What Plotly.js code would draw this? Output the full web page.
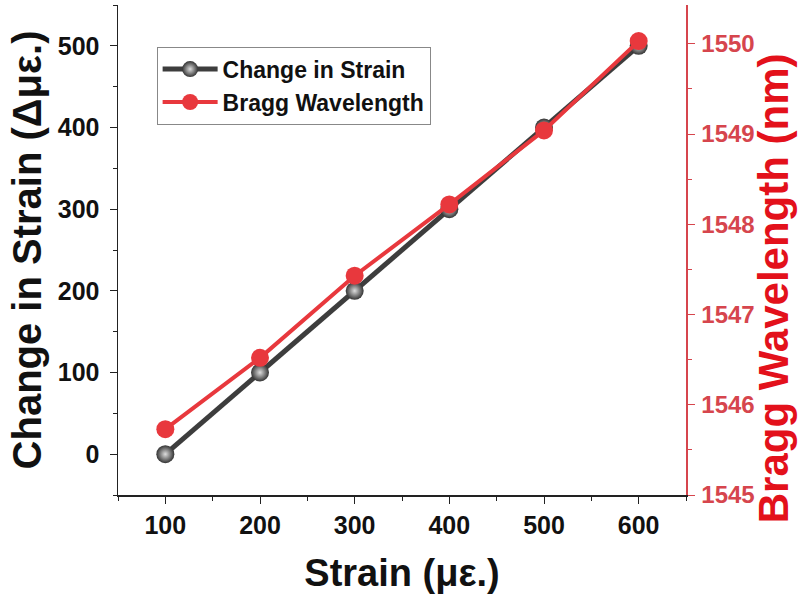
<!DOCTYPE html>
<html><head><meta charset="utf-8">
<script src="https://cdn.plot.ly/plotly-3.0.1.min.js"></script>
<style>body{margin:0;background:#fff}#chart{width:800px;height:609px}</style>
</head><body><div id="chart"></div>
<script>
const strain = [100, 200, 300, 400, 500, 600];
const changeInStrain = [0, 100, 200, 300, 400, 500];
const braggWavelength = [1545.73, 1546.52, 1547.43, 1548.22, 1549.04, 1550.03];
const xTicks = [100, 200, 300, 400, 500, 600];
const yTicks = [0, 100, 200, 300, 400, 500];
const y2Ticks = [1545, 1546, 1547, 1548, 1549, 1550];

const tickFont = {family: 'Liberation Sans, Arial', size: 25, color: '#111', weight: 'bold'};
const data = [
  {x: strain, y: changeInStrain, name: 'Change in Strain', mode: 'lines+markers',
   line: {color: '#3d3d3d', width: 5},
   marker: {size: 18, color: '#333', gradient: {type: 'radial', color: '#ddd'}}},
  {x: strain, y: braggWavelength, name: 'Bragg Wavelength', yaxis: 'y2', mode: 'lines+markers',
   line: {color: '#e8383d', width: 4},
   marker: {size: 18, color: '#e8383d'}}
];
const layout = {
  width: 800, height: 609,
  margin: {l: 118, r: 114, t: 5, b: 114},
  paper_bgcolor: '#fff', plot_bgcolor: '#fff',
  showlegend: true,
  legend: {x: 0.068, y: 0.915, xanchor: 'left', yanchor: 'top', bgcolor: '#fff',
           bordercolor: '#888', borderwidth: 1,
           font: {family: 'Liberation Sans, Arial', size: 23, color: '#111', weight: 'bold'},
           itemwidth: 55, tracegroupgap: 0},
  xaxis: {range: [50, 650], tickvals: xTicks,
          showgrid: false, zeroline: false, showline: true, linecolor: '#222', linewidth: 1.5,
          ticks: 'outside', ticklen: 7, tickcolor: '#222',
          minor: {dtick: 50, tick0: 50, ticks: 'outside', ticklen: 4, tickcolor: '#222'},
          tickfont: tickFont,
          title: {text: 'Strain (με.)', font: {family: 'Liberation Sans, Arial', size: 38, color: '#111', weight: 'bold'}, standoff: 22}},
  yaxis: {range: [-50, 550], tickvals: yTicks,
          showgrid: false, zeroline: false, showline: true, linecolor: '#222', linewidth: 1.5,
          ticks: 'outside', ticklen: 7, tickcolor: '#222', ticklabelstandoff: 5,
          minor: {dtick: 50, tick0: 50, ticks: 'outside', ticklen: 4, tickcolor: '#222'},
          tickfont: tickFont,
          title: {text: 'Change in Strain (Δμε.)', font: {family: 'Liberation Sans, Arial', size: 40, color: '#111', weight: 'bold'}, standoff: 4}},
  yaxis2: {overlaying: 'y', side: 'right', range: [1545, 1550.43],
           tickvals: y2Ticks,
           showgrid: false, zeroline: false, showline: true, linecolor: '#d6454d', linewidth: 1.5,
           ticks: 'outside', ticklen: 7, tickcolor: '#d6454d', ticklabelstandoff: 2,
           minor: {dtick: 0.5, tick0: 1545, ticks: 'outside', ticklen: 4, tickcolor: '#d6454d'},
           tickfont: {family: 'Liberation Sans, Arial', size: 24, color: '#d6454d', weight: 'bold'}},
  annotations: [{text: 'Bragg Wavelength (nm)', xref: 'paper', yref: 'paper',
                 x: 1.1532, y: 0.422, xanchor: 'center', yanchor: 'middle', textangle: -90,
                 showarrow: false,
                 font: {family: 'Liberation Sans, Arial', size: 42, color: '#e3111b', weight: 'bold'}}]
};
Plotly.newPlot('chart', data, layout, {displayModeBar: false, staticPlot: true});
</script></body></html>
